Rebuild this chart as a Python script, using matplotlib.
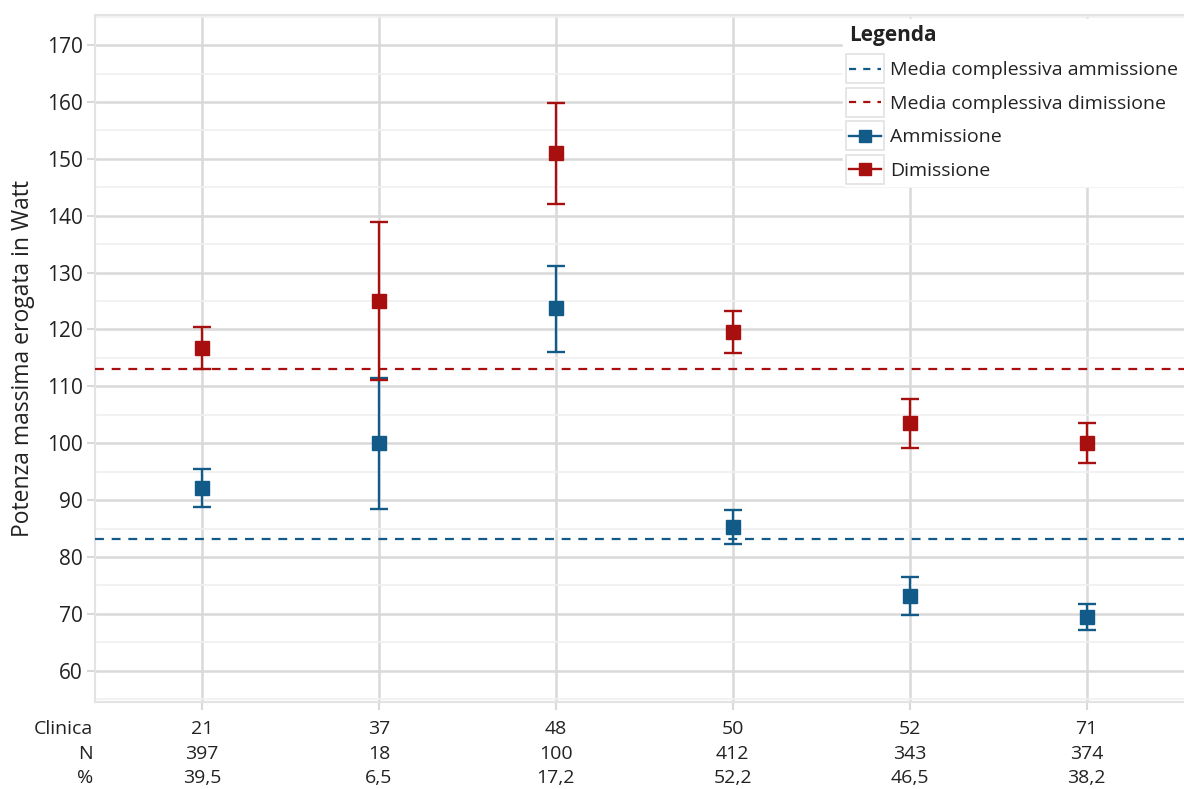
import numpy as np
import matplotlib.pyplot as plt
from matplotlib.lines import Line2D
from matplotlib.patches import Rectangle
from matplotlib.legend_handler import HandlerLine2D

plt.rcParams['font.family'] = ['Open Sans', 'DejaVu Sans']

clinica = ['21', '37', '48', '50', '52', '71']
n_pazienti = ['397', '18', '100', '412', '343', '374']
percentuale = ['39,5', '6,5', '17,2', '52,2', '46,5', '38,2']

amm = [92.2, 100.1, 123.7, 85.3, 73.2, 69.5]
amm_lo = [88.8, 88.5, 116.1, 82.2, 69.8, 67.1]
amm_hi = [95.5, 111.4, 131.2, 88.3, 76.5, 71.8]

dim = [116.8, 125.0, 151.0, 119.5, 103.5, 100.1]
dim_lo = [113.0, 111.2, 142.1, 115.8, 99.1, 96.6]
dim_hi = [120.4, 138.9, 159.8, 123.3, 107.8, 103.5]

media_amm = 83.2
media_dim = 113.0

blue = '#125a88'
red = '#a80f0f'
grid_c = '#d9d9d9'
txt_c = '#222222'


class BoxHandler(HandlerLine2D):
    # draws a light grey box around each legend key
    def create_artists(self, legend, orig_handle, xdescent, ydescent, width, height, fontsize, trans):
        arts = super().create_artists(legend, orig_handle, xdescent, ydescent, width, height, fontsize, trans)
        ph = 0.39 * fontsize
        pw = 0.15 * fontsize
        r = Rectangle((-xdescent - pw, -ydescent - ph), width + 2 * pw, height + 2 * ph,
                      fc='none', ec='#e2e2e2', lw=1.2, transform=trans)
        return [r] + list(arts)


fig = plt.figure(figsize=(11.84, 7.89), dpi=100)
ax = fig.add_axes([0.0802, 0.1103, 0.9198, 0.8707])

x = np.arange(len(clinica))

ax.axhline(media_amm, color=blue, ls=(0, (4, 3.5)), lw=1.6, zorder=3)
ax.axhline(media_dim, color=red, ls=(0, (4, 3.5)), lw=1.6, zorder=3)

a = np.array(amm)
d = np.array(dim)
ax.errorbar(x, a, yerr=[a - np.array(amm_lo), np.array(amm_hi) - a], fmt='s', color=blue,
            ms=9.5, lw=1.7, capsize=6.5, capthick=1.7, zorder=4)
ax.errorbar(x, d, yerr=[d - np.array(dim_lo), np.array(dim_hi) - d], fmt='s', color=red,
            ms=9.5, lw=1.7, capsize=6.5, capthick=1.7, zorder=4)

ax.set_xlim(-0.605, 5.55)
ax.set_ylim(54.5, 175.3)
ax.set_yticks(np.arange(60, 171, 10))
ax.set_yticks(np.arange(55, 176, 10), minor=True)
ax.set_xticks(x)
ax.set_xticklabels([])
ax.grid(axis='y', which='major', color=grid_c, lw=1.8, zorder=0)
ax.grid(axis='y', which='minor', color='#f0f0f0', lw=1.2, zorder=0)
ax.grid(axis='x', which='major', color=grid_c, lw=1.8, zorder=0)
ax.tick_params(axis='y', which='major', length=6, width=1.5, color=grid_c, labelsize=15, labelcolor=txt_c, pad=3)
ax.tick_params(axis='y', which='minor', length=0)
ax.tick_params(axis='x', length=6, width=1.5, color=grid_c)
for s in ax.spines.values():
    s.set_color('#e3e3e3')
    s.set_linewidth(1.5)
ax.spines['right'].set_visible(False)

ax.set_ylabel('Potenza massima erogata in Watt', fontsize=16.5, color=txt_c, labelpad=8)

# table below the axis
rows = [('Clinica', clinica), ('N', n_pazienti), ('%', percentuale)]
for i, (lab, vals) in enumerate(rows):
    y = -0.04 - i * 0.0352
    ax.text(-0.002, y, lab, transform=ax.transAxes, ha='right', va='center', fontsize=14, color=txt_c)
    for xi, v in zip(x, vals):
        ax.text(xi, y, v, transform=ax.get_xaxis_transform(), ha='center', va='center', fontsize=14, color=txt_c)

handles = [
    Line2D([], [], color=blue, ls=(0, (3.2, 3.2)), lw=1.6),
    Line2D([], [], color=red, ls=(0, (3.2, 3.2)), lw=1.6),
    Line2D([], [], color=blue, marker='s', ms=9, lw=1.7),
    Line2D([], [], color=red, marker='s', ms=9, lw=1.7),
]
labels = ['Media complessiva ammissione', 'Media complessiva dimissione', 'Ammissione', 'Dimissione']
leg = ax.legend(handles, labels, loc='upper left', bbox_to_anchor=(843 / 1184, 1 - 19 / 789),
                bbox_transform=fig.transFigure, title='Legenda', frameon=True, fontsize=14,
                handlelength=1.65, handletextpad=0.45, labelspacing=0.8, borderpad=0.3, borderaxespad=0,
                handler_map={Line2D: BoxHandler()})
leg.get_frame().set_facecolor('white')
leg.get_frame().set_edgecolor('white')
leg.get_frame().set_alpha(1)
leg.get_title().set_fontweight('bold')
leg.get_title().set_fontsize(15)
leg.get_title().set_color(txt_c)
for t in leg.get_texts():
    t.set_color(txt_c)
leg._legend_box.align = 'left'

fig.savefig('out.png', dpi=100)
